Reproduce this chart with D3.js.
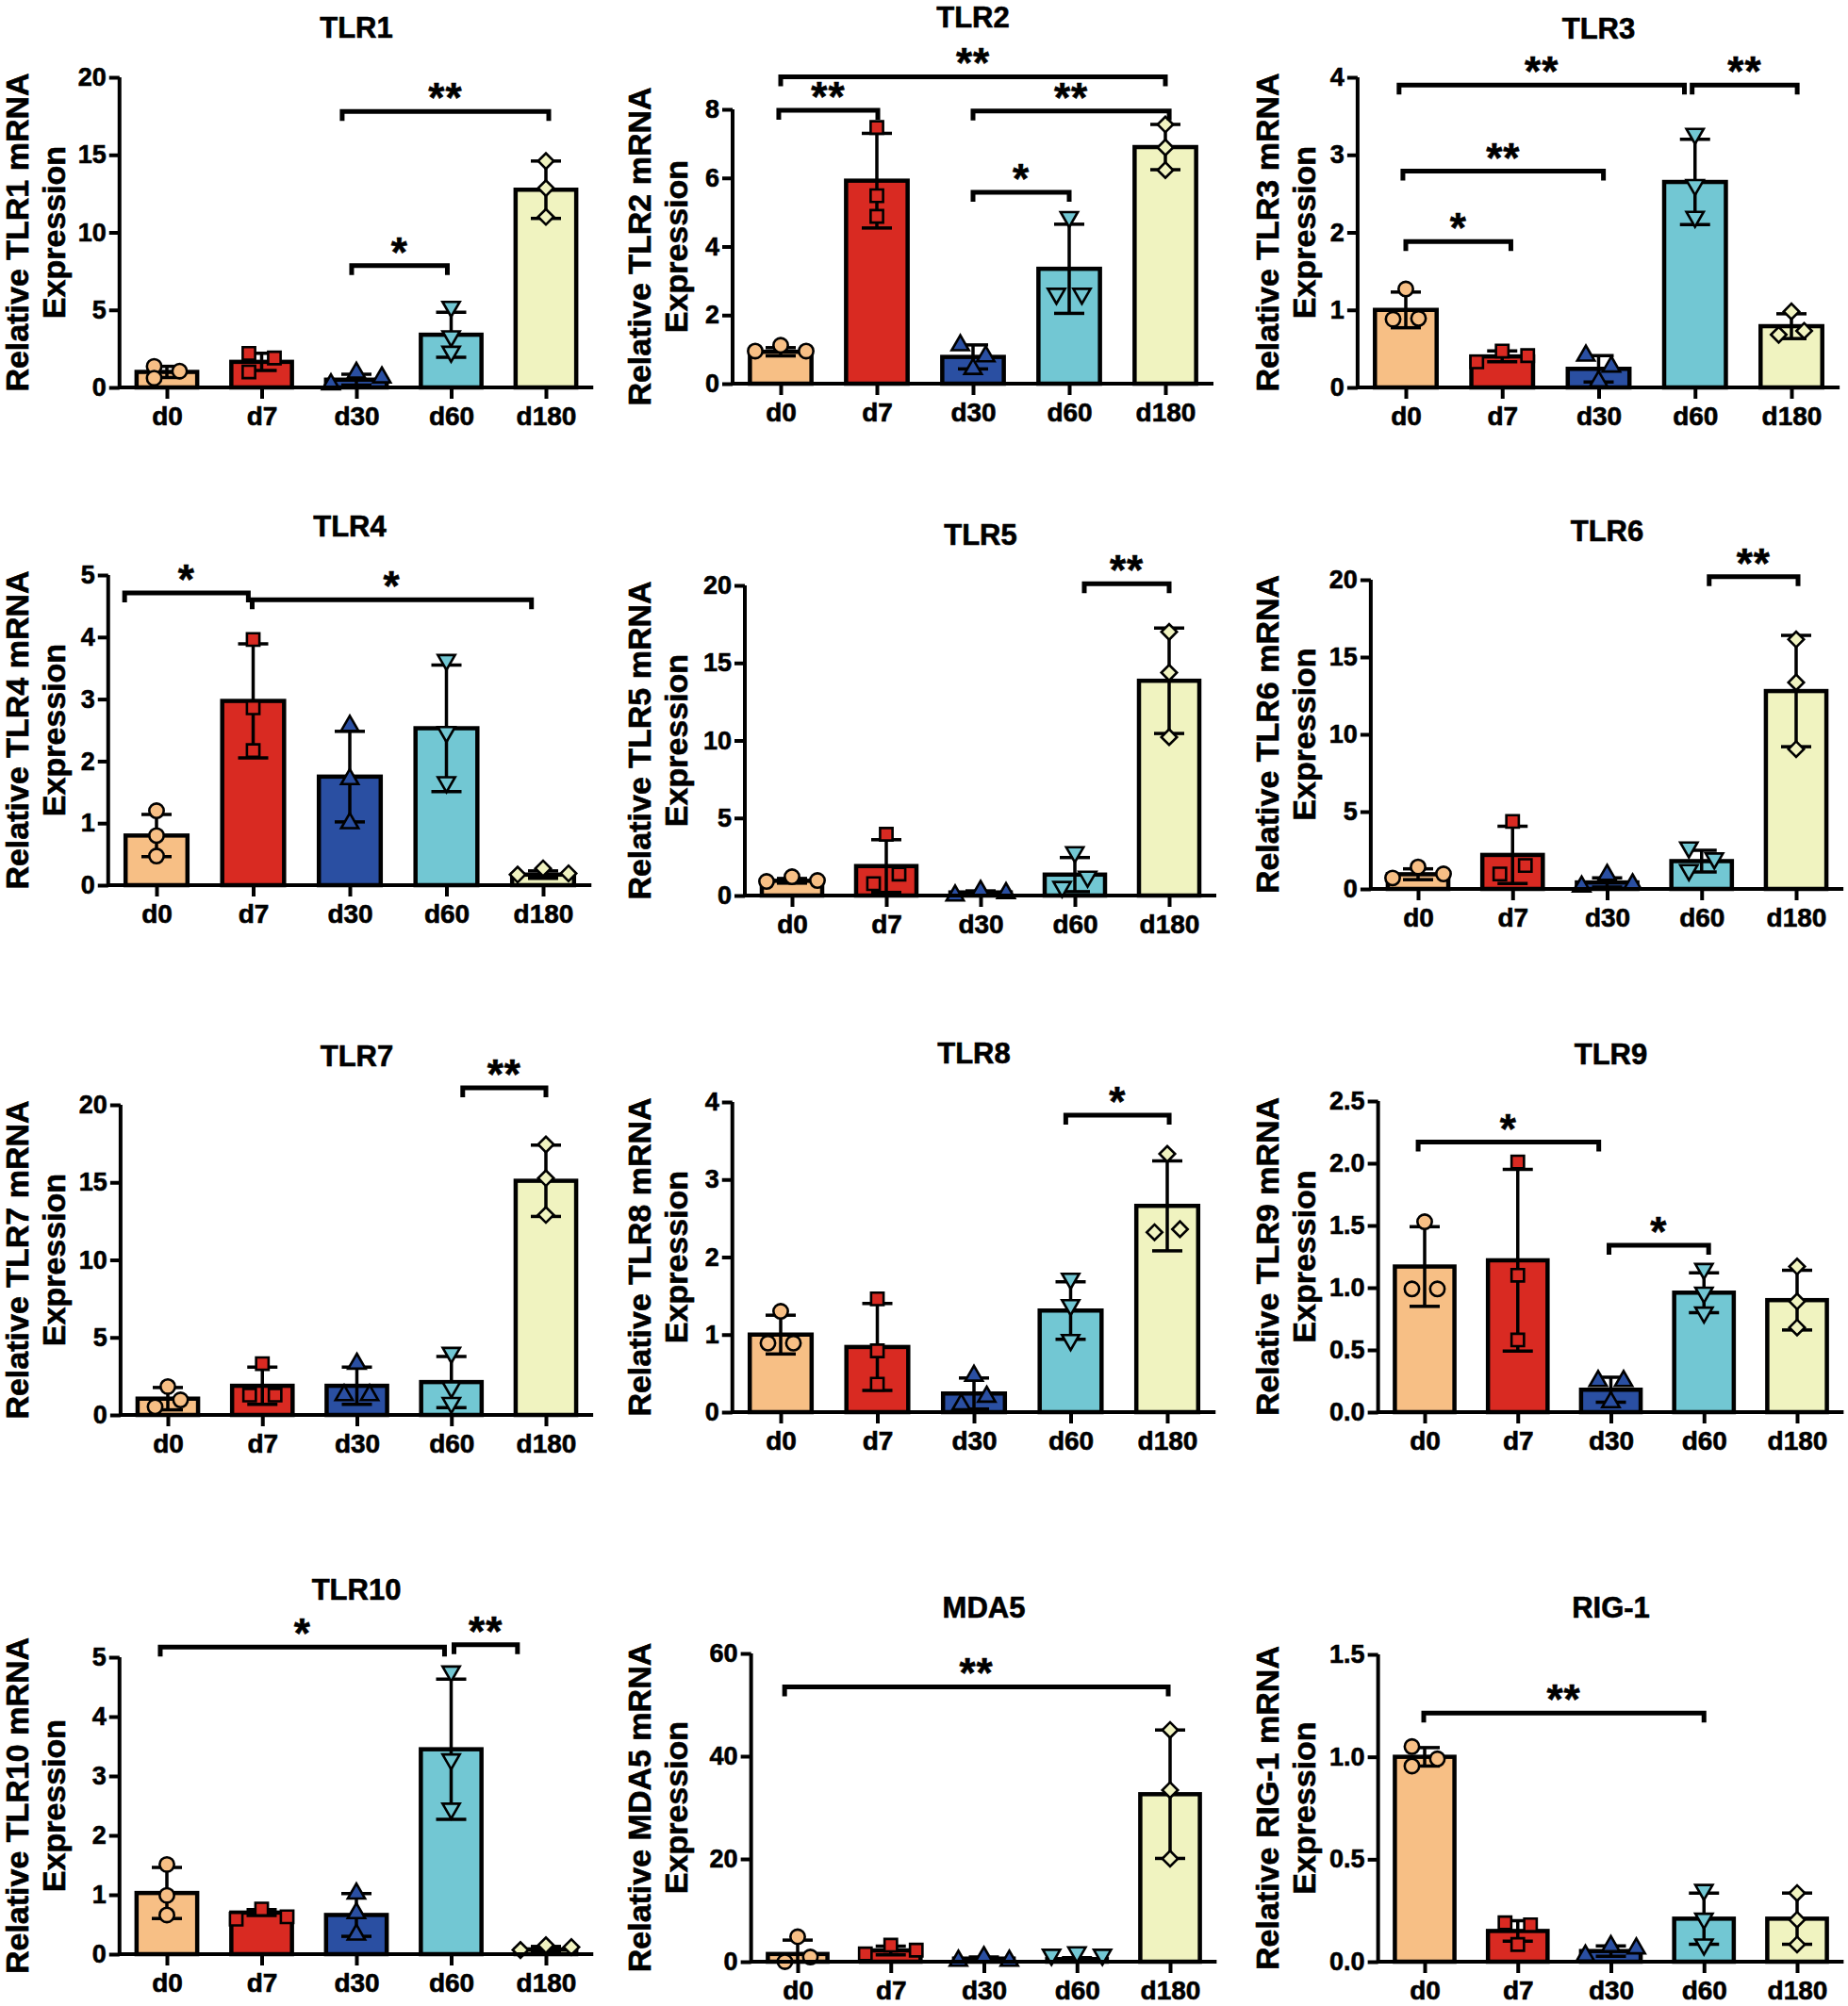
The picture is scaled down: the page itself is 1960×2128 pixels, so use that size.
<!DOCTYPE html>
<html><head><meta charset="utf-8">
<script src="https://cdn.jsdelivr.net/npm/d3@7/dist/d3.min.js"></script>
<style>
body{margin:0;background:#fff}
svg{display:block}
text{font-family:"Liberation Sans",Arial,Helvetica,sans-serif;font-weight:bold;fill:#000;stroke:#000;stroke-width:0.6px}
</style>
</head><body>
<svg id="chart" width="1960" height="2128"></svg>
<script>
// ---------------- DATA ----------------
const categories = ["d0", "d7", "d30", "d60", "d180"];
const groupColors = ["#F7BF85", "#D92A22", "#2A4FA2", "#72C7D3", "#F0F3C0"];
const groupShapes = ["circle", "square", "triangle", "triangleDown", "diamond"];

const panelTitles = ["TLR1","TLR2","TLR3","TLR4","TLR5","TLR6","TLR7","TLR8","TLR9","TLR10","MDA5","RIG-1"];

const TLR1_MEAN = [1.0, 1.65, 0.5, 3.4, 12.75];
const TLR1_SD = [0.36, 0.55, 0.35, 1.45, 1.85];
const TLR1_PTS = [[1.36,1.05,0.6],[2.2,1.9,1.0],[0.2,0.95,0.65],[5.2,3.3,2.3],[14.6,12.85,11.0]];
const TLR1_SPREAD = [[-0.5,0.5,-0.5],[-0.5,0.5,-0.5],[-1,0,1],[0,0,0],[0,0,0]];
const TLR1_TICKS = [0,5,10,15,20];
const TLR1_SIG = [[1.85,4.03,17.8,"**"],[1.95,2.96,7.85,"*"]];

const TLR2_MEAN = [0.93, 5.92, 0.78, 3.35, 6.9];
const TLR2_SD = [0.12, 1.38, 0.35, 1.3, 0.66];
const TLR2_PTS = [[0.95,1.12,0.95],[7.47,5.48,4.88],[1.12,0.8,0.43],[4.86,2.62,2.62],[7.56,6.89,6.23]];
const TLR2_SPREAD = [[-1,0,1],[0,0,0],[-0.5,0.5,0],[0,-0.5,0.5],[0,0,0]];
const TLR2_TICKS = [0,2,4,6,8];
const TLR2_SIG = [[0,4,8.95,"**"],[-0.02,1.01,7.97,"**"],[2.0,4.04,7.95,"**"],[2.0,3.0,5.58,"*"]];

const TLR3_MEAN = [1.0, 0.4, 0.24, 2.65, 0.79];
const TLR3_SD = [0.23, 0.07, 0.17, 0.55, 0.16];
const TLR3_PTS = [[1.27,0.88,0.89],[0.33,0.47,0.41],[0.41,0.27,0.08],[3.27,2.61,2.2],[0.98,0.68,0.73]];
const TLR3_SPREAD = [[0,-0.5,0.5],[-1,0,1],[-0.5,0.5,0],[0,0,0],[0,-0.5,0.5]];
const TLR3_TICKS = [0,1,2,3,4];
const TLR3_SIG = [[-0.07,2.89,3.9,"**"],[2.97,4.06,3.9,"**"],[-0.03,2.05,2.79,"**"],[0.0,1.09,1.88,"*"]];

const TLR4_MEAN = [0.8, 2.97, 1.75, 2.53, 0.17];
const TLR4_SD = [0.34, 0.92, 0.73, 1.02, 0.06];
const TLR4_PTS = [[1.2,0.8,0.47],[3.96,2.86,2.17],[2.57,1.71,1.0],[3.63,2.47,1.66],[0.17,0.27,0.19]];
const TLR4_SPREAD = [[0,0,0],[0,0,0],[0,0,0],[0,0,0],[-1,0,1]];
const TLR4_TICKS = [0,1,2,3,4,5];
const TLR4_SIG = [[-0.33,0.95,4.71,"*"],[0.99,3.88,4.6,"*"]];

const TLR5_MEAN = [0.95, 1.9, 0.2, 1.35, 13.85];
const TLR5_SD = [0.15, 1.7, 0.1, 1.1, 3.4];
const TLR5_PTS = [[0.91,1.21,0.97],[3.95,0.77,1.38],[0.0,0.3,0.15],[2.79,0.55,1.21],[17.0,14.37,10.22]];
const TLR5_SPREAD = [[-1,0,1],[0,-0.5,0.5],[-1,0,1],[0,-0.5,0.5],[0,0,0]];
const TLR5_TICKS = [0,5,10,15,20];
const TLR5_SIG = [[3.1,4.0,20.1,"**"]];

const TLR6_MEAN = [0.95, 2.2, 0.42, 1.8, 12.8];
const TLR6_SD = [0.35, 1.85, 0.3, 0.7, 3.6];
const TLR6_PTS = [[0.71,1.42,0.97],[4.37,0.97,1.52],[0.16,0.91,0.3],[2.68,1.97,1.22],[16.14,13.36,9.04]];
const TLR6_SPREAD = [[-1,0,1],[0,-0.5,0.5],[-1,0,1],[-0.5,0.5,-0.5],[0,0,0]];
const TLR6_TICKS = [0,5,10,15,20];
const TLR6_SIG = [[3.08,4.02,20.2,"**"]];

const TLR7_MEAN = [1.05, 1.88, 1.88, 2.12, 15.1];
const TLR7_SD = [0.72, 1.2, 1.2, 1.65, 2.3];
const TLR7_PTS = [[1.83,0.97,0.53],[3.31,1.28,1.28],[3.31,1.28,1.28],[4.0,1.78,0.77],[17.44,15.27,12.9]];
const TLR7_SPREAD = [[0,0.5,-0.5],[0,-0.5,0.5],[0,-0.5,0.5],[0,0,0],[0,0,0]];
const TLR7_TICKS = [0,5,10,15,20];
const TLR7_SIG = [[3.12,4.0,21.1,"**"]];

const TLR8_MEAN = [1.0, 0.84, 0.24, 1.31, 2.66];
const TLR8_SD = [0.25, 0.56, 0.2, 0.37, 0.58];
const TLR8_PTS = [[1.3,0.89,0.89],[1.46,0.79,0.36],[0.47,0.2,0.1],[1.72,1.38,0.93],[3.33,2.32,2.36]];
const TLR8_SPREAD = [[0,-0.5,0.5],[0,0,0],[0,0.5,-0.5],[0,0,0],[0,-0.5,0.5]];
const TLR8_TICKS = [0,1,2,3,4];
const TLR8_SIG = [[2.95,4.02,3.83,"*"]];

const TLR9_MEAN = [1.17, 1.22, 0.18, 0.96, 0.9];
const TLR9_SD = [0.32, 0.73, 0.1, 0.16, 0.24];
const TLR9_PTS = [[1.53,0.99,0.99],[2.01,1.1,0.58],[0.25,0.25,0.08],[1.15,0.96,0.8],[1.17,0.89,0.68]];
const TLR9_SPREAD = [[0,-0.5,0.5],[0,0,0],[-0.5,0.5,0],[0,0,0],[0,0,0]];
const TLR9_TICKS = [0,0.5,1.0,1.5,2.0,2.5];
const TLR9_SIG = [[-0.07,1.87,2.17,"*"],[1.98,3.05,1.34,"*"]];

const TLR10_MEAN = [1.03, 0.7, 0.66, 3.45, 0.08];
const TLR10_SD = [0.43, 0.05, 0.36, 1.18, 0.05];
const TLR10_PTS = [[1.51,0.99,0.66],[0.76,0.59,0.63],[1.02,0.69,0.33],[4.76,3.28,2.45],[0.07,0.15,0.12]];
const TLR10_SPREAD = [[0,0,0],[0,-1,1],[0,0,0],[0,0,0],[-1,0,1]];
const TLR10_TICKS = [0,1,2,3,4,5];
const TLR10_SIG = [[-0.07,2.93,5.17,"*"],[3.03,3.7,5.21,"**"]];

const MDA5_MEAN = [1.5, 2.2, 0.6, 0.5, 32.6];
const MDA5_SD = [2.7, 0.85, 0.3, 0.3, 12.5];
const MDA5_PTS = [[4.86,0.0,0.91],[3.22,1.52,2.25],[0.18,0.91,0.18],[1.34,1.82,1.34],[45.1,33.4,20.06]];
const MDA5_SPREAD = [[0,-0.5,0.5],[0,-1,1],[-1,0,1],[-1,0,1],[0,0,0]];
const MDA5_TICKS = [0,20,40,60];
const MDA5_SIG = [[-0.14,3.98,53.5,"**"]];

const RIG1_MEAN = [1.0, 0.15, 0.052, 0.21, 0.21];
const RIG1_SD = [0.045, 0.05, 0.025, 0.125, 0.125];
const RIG1_PTS = [[1.05,0.955,0.99],[0.19,0.18,0.084],[0.03,0.076,0.065],[0.35,0.21,0.084],[0.335,0.205,0.084]];
const RIG1_SPREAD = [[-0.5,-0.5,0.5],[-0.5,0.5,0],[-1,0,1],[0,0,0],[0,0,0]];
const RIG1_TICKS = [0,0.5,1.0,1.5];
const RIG1_SIG = [[-0.01,3.0,1.214,"**"]];

const oneDecimalPanels = ["TLR9", "RIG-1"];

// ---------------- LAYOUT (pixels) ----------------
const LAYOUT = [
  {c0:177, c4:579, y0:411, yTop:82, titleY:29},
  {c0:828, c4:1236, y0:407, yTop:116, titleY:18},
  {c0:1491, c4:1900, y0:411, yTop:82, titleY:30},
  {c0:166, c4:576, y0:939, yTop:610, titleY:558},
  {c0:840, c4:1240, y0:950, yTop:621, titleY:567},
  {c0:1504, c4:1905, y0:943, yTop:615, titleY:563},
  {c0:178, c4:579, y0:1501, yTop:1172, titleY:1120},
  {c0:828, c4:1238, y0:1498, yTop:1169, titleY:1117},
  {c0:1511, c4:1906, y0:1498, yTop:1168, titleY:1118},
  {c0:177, c4:579, y0:2073, yTop:1758, titleY:1686},
  {c0:846, c4:1241, y0:2081, yTop:1754, titleY:1705},
  {c0:1511, c4:1906, y0:2081, yTop:1755, titleY:1705}
];
const colTitleBase = [30, 690, 1356];

const panels = [
  [TLR1_MEAN,TLR1_SD,TLR1_PTS,TLR1_SPREAD,TLR1_TICKS,TLR1_SIG],
  [TLR2_MEAN,TLR2_SD,TLR2_PTS,TLR2_SPREAD,TLR2_TICKS,TLR2_SIG],
  [TLR3_MEAN,TLR3_SD,TLR3_PTS,TLR3_SPREAD,TLR3_TICKS,TLR3_SIG],
  [TLR4_MEAN,TLR4_SD,TLR4_PTS,TLR4_SPREAD,TLR4_TICKS,TLR4_SIG],
  [TLR5_MEAN,TLR5_SD,TLR5_PTS,TLR5_SPREAD,TLR5_TICKS,TLR5_SIG],
  [TLR6_MEAN,TLR6_SD,TLR6_PTS,TLR6_SPREAD,TLR6_TICKS,TLR6_SIG],
  [TLR7_MEAN,TLR7_SD,TLR7_PTS,TLR7_SPREAD,TLR7_TICKS,TLR7_SIG],
  [TLR8_MEAN,TLR8_SD,TLR8_PTS,TLR8_SPREAD,TLR8_TICKS,TLR8_SIG],
  [TLR9_MEAN,TLR9_SD,TLR9_PTS,TLR9_SPREAD,TLR9_TICKS,TLR9_SIG],
  [TLR10_MEAN,TLR10_SD,TLR10_PTS,TLR10_SPREAD,TLR10_TICKS,TLR10_SIG],
  [MDA5_MEAN,MDA5_SD,MDA5_PTS,MDA5_SPREAD,MDA5_TICKS,MDA5_SIG],
  [RIG1_MEAN,RIG1_SD,RIG1_PTS,RIG1_SPREAD,RIG1_TICKS,RIG1_SIG]
].map((a,i) => ({title: panelTitles[i], mean:a[0], sd:a[1], pts:a[2], spread:a[3], ticks:a[4], sig:a[5], layout: LAYOUT[i], col: i % 3}));

// ---------------- STYLE ----------------
const BAR_FRAC = 0.64, BAR_STROKE = 4.5, AXIS_W = 4, ERR_W = 3.5, CAP_W = 32;
const PT_UNIT = 27, BR_W = 5, BR_TIP = 10;

const symbolGen = {
  circle: d3.symbol(d3.symbolCircle, 185),
  square: d3.symbol(d3.symbolSquare, 175),
  triangle: d3.symbol(d3.symbolTriangle, 145),
  triangleDown: d3.symbol(d3.symbolTriangle, 145),
  diamond: d3.symbol(d3.symbolSquare, 135)
};
const symbolRot = {circle:0, square:0, triangle:0, triangleDown:180, diamond:45};

const svg = d3.select("#chart");

panels.forEach(p => {
  const L = p.layout;
  const x = d3.scalePoint().domain(categories).range([L.c0, L.c4]);
  const step = x.step();
  const left = L.c0 - 0.5 * step, right = L.c4 + 0.5 * step;
  const yMax = p.ticks[p.ticks.length - 1];
  const y = d3.scaleLinear().domain([0, yMax]).range([L.y0, L.yTop]);
  const g = svg.append("g");
  const bw = step * BAR_FRAC;

  // bars
  g.selectAll("rect.bar").data(p.mean).join("rect")
    .attr("x", (d,i) => x(categories[i]) - bw/2)
    .attr("y", d => y(d))
    .attr("width", bw)
    .attr("height", d => y(0) - y(d))
    .attr("fill", (d,i) => groupColors[i])
    .attr("stroke", "#000").attr("stroke-width", BAR_STROKE);

  // error bars
  p.mean.forEach((m,i) => {
    const cx = x(categories[i]);
    const hi = m + p.sd[i], lo = Math.max(0, m - p.sd[i]);
    g.append("line").attr("x1", cx).attr("x2", cx).attr("y1", y(hi)).attr("y2", y(lo))
      .attr("stroke", "#000").attr("stroke-width", ERR_W);
    g.append("line").attr("x1", cx - CAP_W/2).attr("x2", cx + CAP_W/2).attr("y1", y(hi)).attr("y2", y(hi))
      .attr("stroke", "#000").attr("stroke-width", ERR_W);
    if (m - p.sd[i] > 0) {
      g.append("line").attr("x1", cx - CAP_W/2).attr("x2", cx + CAP_W/2).attr("y1", y(lo)).attr("y2", y(lo))
        .attr("stroke", "#000").attr("stroke-width", ERR_W);
    }
  });

  // points
  p.pts.forEach((vals,i) => {
    const shape = groupShapes[i];
    vals.forEach((v,j) => {
      const px = x(categories[i]) + p.spread[i][j] * PT_UNIT;
      const py = y(v);
      g.append("path").attr("d", symbolGen[shape]())
        .attr("transform", `translate(${px},${py}) rotate(${symbolRot[shape]})`)
        .attr("fill", groupColors[i]).attr("stroke", "#000").attr("stroke-width", 2.6);
    });
  });

  // x axis
  g.append("line").attr("x1", left).attr("x2", right).attr("y1", y(0)).attr("y2", y(0))
    .attr("stroke", "#000").attr("stroke-width", AXIS_W);
  const xAx = g.append("g").attr("transform", `translate(0,${y(0)})`)
    .call(d3.axisBottom(x).tickSize(12).tickPadding(8).tickSizeOuter(0));
  xAx.select(".domain").remove();
  xAx.selectAll("line").attr("stroke", "#000").attr("stroke-width", AXIS_W);
  xAx.selectAll("text").style("font-size", "28px").attr("font-family", null).attr("fill", "#000");

  // y axis
  const fmt = oneDecimalPanels.includes(p.title) ? d3.format(".1f") : d3.format("d");
  const yAx = g.append("g").attr("transform", `translate(${left},0)`)
    .call(d3.axisLeft(y).tickValues(p.ticks).tickFormat(fmt).tickSize(11).tickPadding(3).tickSizeOuter(0));
  yAx.select(".domain").attr("stroke", "#000").attr("stroke-width", AXIS_W)
    .attr("d", `M0,${y(0) + AXIS_W/2}V${y(yMax)}`);
  yAx.selectAll("line").attr("stroke", "#000").attr("stroke-width", AXIS_W);
  yAx.selectAll("text").style("font-size", "27px").attr("font-family", null).attr("fill", "#000");

  // significance brackets
  p.sig.forEach(s => {
    const x1 = L.c0 + s[0] * step, x2 = L.c0 + s[1] * step, by = y(s[2]);
    g.append("path").attr("d", `M${x1},${by + BR_TIP}V${by}H${x2}V${by + BR_TIP}`)
      .attr("fill", "none").attr("stroke", "#000").attr("stroke-width", BR_W);
    g.append("text").attr("x", (x1 + x2)/2).attr("y", by + 1)
      .attr("text-anchor", "middle").style("font-size", "44px").style("letter-spacing", "1px")
      .text(s[3]);
  });

  // title
  g.append("text").attr("x", (left + right)/2).attr("y", L.titleY)
    .attr("text-anchor", "middle").attr("dominant-baseline", "central")
    .style("font-size", "31px").text(p.title);

  // y title
  const midY = (y(0) + y(yMax)) / 2;
  const bx = colTitleBase[p.col];
  [["Relative " + p.title + " mRNA", 0], ["Expression", 39]].forEach(([t, off]) => {
    g.append("text").attr("transform", `translate(${bx + off},${midY}) rotate(-90)`)
      .attr("text-anchor", "middle").style("font-size", "34px").text(t);
  });
});
</script>
</body></html>
